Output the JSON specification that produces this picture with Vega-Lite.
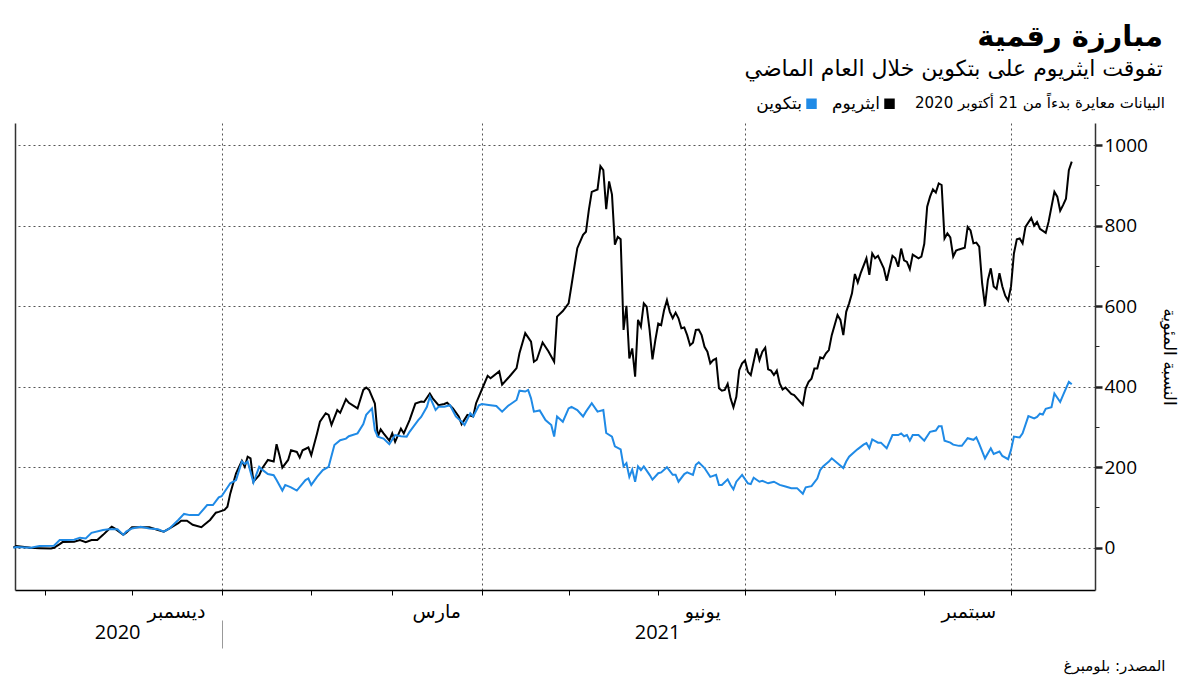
{
"$schema": "https://vega.github.io/schema/vega-lite/v6.json",
"width": 1080,
"height": 467,
"autosize": {"type": "none"},
"padding": {"left": 15, "top": 123, "right": 105, "bottom": 85},
"background": "white",
"config": {"view": {"stroke": null}, "font": "Open Sans, DejaVu Sans"},
"title": {"text": "مبارزة رقمية", "subtitle": "تفوقت ايثريوم على بتكوين خلال العام الماضي", "anchor": "end", "frame": "group", "dx": 68, "offset": 15, "font": "DejaVu Sans", "fontSize": 29, "fontWeight": "bold", "color": "#000", "subtitleFont": "DejaVu Sans", "subtitleFontSize": 22, "subtitleColor": "#000", "subtitlePadding": 7},
"datasets": {
"eth": [
{"d":"2020-10-21","v":0},{"d":"2020-10-22","v":4},{"d":"2020-10-27","v":0},{"d":"2020-10-30","v":-1},{"d":"2020-11-03","v":-2},{"d":"2020-11-04","v":0},{"d":"2020-11-06","v":9},{"d":"2020-11-07","v":14},{"d":"2020-11-11","v":15},{"d":"2020-11-13","v":19},{"d":"2020-11-15","v":14},{"d":"2020-11-17","v":19},{"d":"2020-11-19","v":19},{"d":"2020-11-21","v":32},{"d":"2020-11-23","v":46},{"d":"2020-11-24","v":52},{"d":"2020-11-25","v":48},{"d":"2020-11-28","v":32},{"d":"2020-11-29","v":37},{"d":"2020-12-01","v":51},{"d":"2020-12-03","v":51},{"d":"2020-12-05","v":51},{"d":"2020-12-07","v":51},{"d":"2020-12-10","v":44},{"d":"2020-12-12","v":40},{"d":"2020-12-14","v":48},{"d":"2020-12-17","v":61},{"d":"2020-12-18","v":67},{"d":"2020-12-20","v":67},{"d":"2020-12-22","v":57},{"d":"2020-12-25","v":51},{"d":"2020-12-26","v":57},{"d":"2020-12-28","v":69},{"d":"2020-12-30","v":87},{"d":"2020-12-31","v":89},
{"d":"2021-01-02","v":94},{"d":"2021-01-03","v":102},{"d":"2021-01-04","v":135},{"d":"2021-01-05","v":160},{"d":"2021-01-06","v":185},{"d":"2021-01-08","v":216},{"d":"2021-01-09","v":201},{"d":"2021-01-10","v":226},{"d":"2021-01-11","v":222},{"d":"2021-01-12","v":164},{"d":"2021-01-14","v":180},{"d":"2021-01-15","v":197},{"d":"2021-01-17","v":218},{"d":"2021-01-19","v":214},{"d":"2021-01-20","v":257},{"d":"2021-01-21","v":230},{"d":"2021-01-22","v":199},{"d":"2021-01-24","v":218},{"d":"2021-01-25","v":242},{"d":"2021-01-27","v":238},{"d":"2021-01-28","v":224},{"d":"2021-01-29","v":242},{"d":"2021-01-31","v":249},
{"d":"2021-02-01","v":230},{"d":"2021-02-03","v":284},{"d":"2021-02-04","v":313},{"d":"2021-02-06","v":334},{"d":"2021-02-07","v":330},{"d":"2021-02-08","v":305},{"d":"2021-02-10","v":342},{"d":"2021-02-11","v":335},{"d":"2021-02-13","v":369},{"d":"2021-02-14","v":360},{"d":"2021-02-17","v":346},{"d":"2021-02-19","v":392},{"d":"2021-02-20","v":398},{"d":"2021-02-21","v":392},{"d":"2021-02-23","v":358},{"d":"2021-02-24","v":276},{"d":"2021-02-25","v":294},{"d":"2021-02-26","v":284},{"d":"2021-02-28","v":266},
{"d":"2021-03-01","v":284},{"d":"2021-03-02","v":263},{"d":"2021-03-04","v":296},{"d":"2021-03-05","v":284},{"d":"2021-03-07","v":317},{"d":"2021-03-09","v":358},{"d":"2021-03-11","v":363},{"d":"2021-03-12","v":362},{"d":"2021-03-14","v":383},{"d":"2021-03-15","v":371},{"d":"2021-03-17","v":354},{"d":"2021-03-19","v":357},{"d":"2021-03-20","v":360},{"d":"2021-03-22","v":346},{"d":"2021-03-24","v":326},{"d":"2021-03-25","v":307},{"d":"2021-03-27","v":330},{"d":"2021-03-29","v":326},{"d":"2021-03-30","v":359},
{"d":"2021-04-01","v":393},{"d":"2021-04-03","v":427},{"d":"2021-04-04","v":421},{"d":"2021-04-07","v":438},{"d":"2021-04-08","v":405},{"d":"2021-04-10","v":421},{"d":"2021-04-11","v":429},{"d":"2021-04-13","v":446},{"d":"2021-04-14","v":483},{"d":"2021-04-16","v":533},{"d":"2021-04-18","v":512},{"d":"2021-04-19","v":462},{"d":"2021-04-20","v":467},{"d":"2021-04-22","v":510},{"d":"2021-04-24","v":488},{"d":"2021-04-26","v":462},{"d":"2021-04-27","v":574},{"d":"2021-04-29","v":588},
{"d":"2021-05-01","v":607},{"d":"2021-05-02","v":652},{"d":"2021-05-04","v":744},{"d":"2021-05-06","v":777},{"d":"2021-05-07","v":785},{"d":"2021-05-08","v":839},{"d":"2021-05-09","v":884},{"d":"2021-05-11","v":890},{"d":"2021-05-12","v":948},{"d":"2021-05-13","v":938},{"d":"2021-05-14","v":841},{"d":"2021-05-15","v":910},{"d":"2021-05-16","v":877},{"d":"2021-05-17","v":753},{"d":"2021-05-18","v":772},{"d":"2021-05-19","v":766},{"d":"2021-05-20","v":541},{"d":"2021-05-21","v":601},{"d":"2021-05-22","v":470},{"d":"2021-05-23","v":495},{"d":"2021-05-24","v":425},{"d":"2021-05-25","v":566},{"d":"2021-05-26","v":549},{"d":"2021-05-27","v":607},{"d":"2021-05-28","v":599},{"d":"2021-05-29","v":541},{"d":"2021-05-30","v":468},{"d":"2021-05-31","v":516},
{"d":"2021-06-01","v":557},{"d":"2021-06-02","v":553},{"d":"2021-06-03","v":590},{"d":"2021-06-04","v":615},{"d":"2021-06-05","v":586},{"d":"2021-06-06","v":570},{"d":"2021-06-07","v":584},{"d":"2021-06-08","v":570},{"d":"2021-06-09","v":545},{"d":"2021-06-10","v":547},{"d":"2021-06-11","v":528},{"d":"2021-06-12","v":503},{"d":"2021-06-13","v":509},{"d":"2021-06-14","v":541},{"d":"2021-06-15","v":542},{"d":"2021-06-16","v":528},{"d":"2021-06-17","v":499},{"d":"2021-06-18","v":487},{"d":"2021-06-19","v":458},{"d":"2021-06-20","v":466},{"d":"2021-06-21","v":470},{"d":"2021-06-22","v":396},{"d":"2021-06-23","v":390},{"d":"2021-06-24","v":392},{"d":"2021-06-25","v":407},{"d":"2021-06-26","v":371},{"d":"2021-06-27","v":349},{"d":"2021-06-28","v":375},{"d":"2021-06-29","v":441},{"d":"2021-06-30","v":458},
{"d":"2021-07-01","v":465},{"d":"2021-07-02","v":437},{"d":"2021-07-03","v":429},{"d":"2021-07-04","v":462},{"d":"2021-07-05","v":495},{"d":"2021-07-06","v":466},{"d":"2021-07-07","v":487},{"d":"2021-07-08","v":497},{"d":"2021-07-09","v":443},{"d":"2021-07-10","v":440},{"d":"2021-07-11","v":429},{"d":"2021-07-12","v":440},{"d":"2021-07-13","v":408},{"d":"2021-07-14","v":393},{"d":"2021-07-15","v":398},{"d":"2021-07-17","v":382},{"d":"2021-07-18","v":379},{"d":"2021-07-19","v":371},{"d":"2021-07-21","v":355},{"d":"2021-07-22","v":396},{"d":"2021-07-23","v":412},{"d":"2021-07-24","v":420},{"d":"2021-07-25","v":445},{"d":"2021-07-26","v":445},{"d":"2021-07-27","v":473},{"d":"2021-07-28","v":470},{"d":"2021-07-29","v":483},{"d":"2021-07-30","v":491},{"d":"2021-07-31","v":528},
{"d":"2021-08-02","v":578},{"d":"2021-08-03","v":566},{"d":"2021-08-04","v":528},{"d":"2021-08-05","v":586},{"d":"2021-08-06","v":607},{"d":"2021-08-07","v":632},{"d":"2021-08-08","v":680},{"d":"2021-08-09","v":659},{"d":"2021-08-10","v":682},{"d":"2021-08-12","v":719},{"d":"2021-08-13","v":678},{"d":"2021-08-14","v":731},{"d":"2021-08-15","v":719},{"d":"2021-08-16","v":725},{"d":"2021-08-18","v":694},{"d":"2021-08-19","v":663},{"d":"2021-08-20","v":694},{"d":"2021-08-21","v":725},{"d":"2021-08-22","v":719},{"d":"2021-08-23","v":698},{"d":"2021-08-24","v":743},{"d":"2021-08-25","v":714},{"d":"2021-08-26","v":710},{"d":"2021-08-27","v":692},{"d":"2021-08-28","v":728},{"d":"2021-08-30","v":719},{"d":"2021-08-31","v":723},
{"d":"2021-09-01","v":755},{"d":"2021-09-02","v":847},{"d":"2021-09-03","v":872},{"d":"2021-09-04","v":890},{"d":"2021-09-05","v":882},{"d":"2021-09-06","v":905},{"d":"2021-09-07","v":901},{"d":"2021-09-08","v":768},{"d":"2021-09-09","v":781},{"d":"2021-09-10","v":771},{"d":"2021-09-11","v":723},{"d":"2021-09-12","v":738},{"d":"2021-09-13","v":741},{"d":"2021-09-15","v":745},{"d":"2021-09-16","v":797},{"d":"2021-09-17","v":788},{"d":"2021-09-18","v":756},{"d":"2021-09-19","v":758},{"d":"2021-09-20","v":748},{"d":"2021-09-21","v":657},{"d":"2021-09-22","v":601},{"d":"2021-09-23","v":665},{"d":"2021-09-24","v":694},{"d":"2021-09-25","v":649},{"d":"2021-09-26","v":643},{"d":"2021-09-27","v":682},{"d":"2021-09-28","v":649},{"d":"2021-09-29","v":626},{"d":"2021-09-30","v":614},
{"d":"2021-10-01","v":649},{"d":"2021-10-02","v":731},{"d":"2021-10-03","v":766},{"d":"2021-10-04","v":768},{"d":"2021-10-05","v":756},{"d":"2021-10-06","v":797},{"d":"2021-10-08","v":819},{"d":"2021-10-09","v":800},{"d":"2021-10-10","v":809},{"d":"2021-10-11","v":792},{"d":"2021-10-13","v":782},{"d":"2021-10-14","v":810},{"d":"2021-10-16","v":884},{"d":"2021-10-17","v":872},{"d":"2021-10-18","v":837},{"d":"2021-10-19","v":851},{"d":"2021-10-20","v":867},{"d":"2021-10-21","v":938},{"d":"2021-10-22","v":959}
],
"btc": [
{"d":"2020-10-21","v":0},{"d":"2020-10-22","v":2},{"d":"2020-10-27","v":0},{"d":"2020-10-30","v":4},{"d":"2020-11-04","v":5},{"d":"2020-11-06","v":19},{"d":"2020-11-08","v":19},{"d":"2020-11-11","v":20},{"d":"2020-11-13","v":25},{"d":"2020-11-15","v":23},{"d":"2020-11-17","v":37},{"d":"2020-11-21","v":44},{"d":"2020-11-23","v":46},{"d":"2020-11-26","v":46},{"d":"2020-11-28","v":32},{"d":"2020-11-29","v":40},{"d":"2020-12-01","v":48},{"d":"2020-12-04","v":52},{"d":"2020-12-07","v":48},{"d":"2020-12-10","v":46},{"d":"2020-12-12","v":40},{"d":"2020-12-14","v":48},{"d":"2020-12-17","v":69},{"d":"2020-12-19","v":84},{"d":"2020-12-21","v":81},{"d":"2020-12-24","v":81},{"d":"2020-12-27","v":106},{"d":"2020-12-29","v":106},{"d":"2020-12-31","v":125},
{"d":"2021-01-01","v":128},{"d":"2021-01-04","v":160},{"d":"2021-01-06","v":168},{"d":"2021-01-08","v":214},{"d":"2021-01-09","v":208},{"d":"2021-01-10","v":214},{"d":"2021-01-12","v":162},{"d":"2021-01-14","v":201},{"d":"2021-01-15","v":194},{"d":"2021-01-17","v":183},{"d":"2021-01-19","v":180},{"d":"2021-01-20","v":168},{"d":"2021-01-22","v":142},{"d":"2021-01-23","v":156},{"d":"2021-01-25","v":150},{"d":"2021-01-27","v":142},{"d":"2021-01-30","v":168},{"d":"2021-01-31","v":172},
{"d":"2021-02-01","v":156},{"d":"2021-02-03","v":176},{"d":"2021-02-05","v":193},{"d":"2021-02-07","v":201},{"d":"2021-02-09","v":255},{"d":"2021-02-11","v":267},{"d":"2021-02-13","v":271},{"d":"2021-02-14","v":277},{"d":"2021-02-17","v":284},{"d":"2021-02-19","v":307},{"d":"2021-02-20","v":330},{"d":"2021-02-22","v":346},{"d":"2021-02-23","v":292},{"d":"2021-02-24","v":276},{"d":"2021-02-26","v":271},{"d":"2021-02-28","v":257},
{"d":"2021-03-02","v":280},{"d":"2021-03-04","v":277},{"d":"2021-03-06","v":276},{"d":"2021-03-07","v":288},{"d":"2021-03-10","v":317},{"d":"2021-03-11","v":325},{"d":"2021-03-13","v":350},{"d":"2021-03-14","v":375},{"d":"2021-03-16","v":342},{"d":"2021-03-17","v":350},{"d":"2021-03-19","v":350},{"d":"2021-03-21","v":354},{"d":"2021-03-23","v":326},{"d":"2021-03-25","v":313},{"d":"2021-03-26","v":305},{"d":"2021-03-28","v":334},{"d":"2021-03-29","v":326},{"d":"2021-03-31","v":354},
{"d":"2021-04-01","v":357},{"d":"2021-04-04","v":354},{"d":"2021-04-06","v":352},{"d":"2021-04-08","v":338},{"d":"2021-04-10","v":352},{"d":"2021-04-11","v":357},{"d":"2021-04-13","v":367},{"d":"2021-04-14","v":390},{"d":"2021-04-16","v":388},{"d":"2021-04-17","v":392},{"d":"2021-04-18","v":371},{"d":"2021-04-19","v":338},{"d":"2021-04-21","v":341},{"d":"2021-04-23","v":317},{"d":"2021-04-25","v":305},{"d":"2021-04-26","v":276},{"d":"2021-04-27","v":326},{"d":"2021-04-29","v":313},
{"d":"2021-05-01","v":346},{"d":"2021-05-02","v":350},{"d":"2021-05-04","v":342},{"d":"2021-05-06","v":326},{"d":"2021-05-07","v":338},{"d":"2021-05-09","v":359},{"d":"2021-05-11","v":338},{"d":"2021-05-13","v":342},{"d":"2021-05-14","v":285},{"d":"2021-05-16","v":276},{"d":"2021-05-17","v":252},{"d":"2021-05-19","v":244},{"d":"2021-05-20","v":202},{"d":"2021-05-21","v":210},{"d":"2021-05-22","v":176},{"d":"2021-05-23","v":194},{"d":"2021-05-24","v":164},{"d":"2021-05-25","v":202},{"d":"2021-05-26","v":193},{"d":"2021-05-27","v":202},{"d":"2021-05-29","v":181},{"d":"2021-05-30","v":169},
{"d":"2021-06-01","v":185},{"d":"2021-06-02","v":187},{"d":"2021-06-04","v":200},{"d":"2021-06-06","v":181},{"d":"2021-06-07","v":181},{"d":"2021-06-08","v":164},{"d":"2021-06-10","v":183},{"d":"2021-06-11","v":187},{"d":"2021-06-13","v":181},{"d":"2021-06-14","v":206},{"d":"2021-06-15","v":212},{"d":"2021-06-17","v":198},{"d":"2021-06-19","v":176},{"d":"2021-06-21","v":181},{"d":"2021-06-22","v":156},{"d":"2021-06-23","v":156},{"d":"2021-06-25","v":170},{"d":"2021-06-26","v":156},{"d":"2021-06-27","v":145},{"d":"2021-06-28","v":164},{"d":"2021-06-30","v":181},
{"d":"2021-07-02","v":160},{"d":"2021-07-03","v":158},{"d":"2021-07-04","v":174},{"d":"2021-07-06","v":164},{"d":"2021-07-07","v":166},{"d":"2021-07-09","v":160},{"d":"2021-07-10","v":162},{"d":"2021-07-11","v":164},{"d":"2021-07-13","v":156},{"d":"2021-07-15","v":152},{"d":"2021-07-17","v":148},{"d":"2021-07-19","v":148},{"d":"2021-07-21","v":134},{"d":"2021-07-22","v":150},{"d":"2021-07-24","v":153},{"d":"2021-07-26","v":172},{"d":"2021-07-27","v":193},{"d":"2021-07-28","v":202},{"d":"2021-07-30","v":214},{"d":"2021-07-31","v":222},
{"d":"2021-08-02","v":210},{"d":"2021-08-04","v":198},{"d":"2021-08-05","v":214},{"d":"2021-08-06","v":226},{"d":"2021-08-08","v":239},{"d":"2021-08-09","v":245},{"d":"2021-08-11","v":256},{"d":"2021-08-12","v":260},{"d":"2021-08-13","v":247},{"d":"2021-08-14","v":269},{"d":"2021-08-16","v":261},{"d":"2021-08-17","v":261},{"d":"2021-08-19","v":247},{"d":"2021-08-21","v":280},{"d":"2021-08-23","v":280},{"d":"2021-08-24","v":284},{"d":"2021-08-25","v":277},{"d":"2021-08-26","v":280},{"d":"2021-08-27","v":266},{"d":"2021-08-28","v":280},{"d":"2021-08-30","v":280},
{"d":"2021-09-01","v":266},{"d":"2021-09-03","v":288},{"d":"2021-09-05","v":291},{"d":"2021-09-06","v":302},{"d":"2021-09-07","v":302},{"d":"2021-09-08","v":266},{"d":"2021-09-10","v":261},{"d":"2021-09-11","v":256},{"d":"2021-09-13","v":253},{"d":"2021-09-14","v":253},{"d":"2021-09-16","v":272},{"d":"2021-09-18","v":268},{"d":"2021-09-19","v":274},{"d":"2021-09-20","v":258},{"d":"2021-09-22","v":222},{"d":"2021-09-24","v":247},{"d":"2021-09-25","v":233},{"d":"2021-09-27","v":239},{"d":"2021-09-28","v":228},{"d":"2021-09-30","v":220},
{"d":"2021-10-01","v":243},{"d":"2021-10-02","v":276},{"d":"2021-10-04","v":274},{"d":"2021-10-05","v":284},{"d":"2021-10-07","v":327},{"d":"2021-10-09","v":321},{"d":"2021-10-10","v":325},{"d":"2021-10-11","v":333},{"d":"2021-10-12","v":331},{"d":"2021-10-13","v":345},{"d":"2021-10-15","v":349},{"d":"2021-10-16","v":383},{"d":"2021-10-18","v":362},{"d":"2021-10-19","v":379},{"d":"2021-10-21","v":412},{"d":"2021-10-22","v":406}
]
},
"layer": [
{
"data": {"name": "eth"},
"mark": {"type": "line", "strokeWidth": 2},
"encoding": {
"x": {"field": "d", "type": "temporal",
"scale": {"domain": [{"year": 2020, "month": 10, "date": 21, "hours": 13}, {"year": 2021, "month": 10, "date": 30, "hours": 1}]},
"axis": {"orient": "bottom", "title": null,
"values": [{"year":2020,"month":11,"date":1},{"year":2020,"month":12,"date":1},{"year":2021,"month":1,"date":1},{"year":2021,"month":2,"date":1},{"year":2021,"month":3,"date":1},{"year":2021,"month":4,"date":1},{"year":2021,"month":5,"date":1},{"year":2021,"month":6,"date":1},{"year":2021,"month":7,"date":1},{"year":2021,"month":8,"date":1},{"year":2021,"month":9,"date":1},{"year":2021,"month":10,"date":1}],
"labelExpr": "month(datum.value)==11?'ديسمبر':month(datum.value)==2?'مارس':month(datum.value)==5?'يونيو':month(datum.value)==8?'سبتمبر':''",
"labelOffset": 44, "labelPadding": 7, "labelFont": "DejaVu Sans", "labelFontSize": 19, "labelColor": "#000",
"labelBound": false, "labelOverlap": false, "labelFlush": false,
"ticks": true, "tickSize": 5, "tickColor": "#000", "tickWidth": 1,
"domain": true, "domainColor": "#000", "domainWidth": 1.5,
"grid": true, "gridColor": "#555", "gridDash": [2, 3], "gridWidth": 1,
"gridOpacity": {"condition": {"test": "month(datum.value)%3==0", "value": 1}, "value": 0}}},
"y": {"field": "v", "type": "quantitative",
"scale": {"domain": [-105, 1055], "nice": false, "zero": false},
"axis": {"orient": "right", "title": "النسبة المئوية", "titleAngle": 90, "titleFont": "DejaVu Sans", "titleFontSize": 17, "titleFontWeight": "normal", "titleColor": "#000", "titlePadding": 12,
"values": [0,100,200,300,400,500,600,700,800,900,1000], "format": "d",
"labelExpr": "datum.value%200==0?datum.label:''",
"labelFont": "Open Sans", "labelFontSize": 19, "labelColor": "#000", "labelPadding": 2,
"labelBound": false, "labelOverlap": false, "labelFlush": false,
"ticks": true, "tickColor": "#222",
"tickSize": {"condition": {"test": "datum.value%200==0", "value": 7}, "value": 4},
"tickWidth": {"condition": {"test": "datum.value%200==0", "value": 2.5}, "value": 1},
"domain": true, "domainColor": "#333", "domainWidth": 1.5,
"grid": true, "gridColor": "#555", "gridDash": [2, 3], "gridWidth": 1,
"gridOpacity": {"condition": {"test": "datum.value%200==0", "value": 1}, "value": 0}}},
"color": {"datum": "ايثريوم", "type": "nominal",
"scale": {"domain": ["بتكوين", "ايثريوم"], "range": ["#1f8ae6", "#000000"]},
"legend": {"orient": "none", "legendX": 788, "legendY": -28, "direction": "horizontal", "titleOrient": "right",
"title": "البيانات معايرة بدءاً من 21 أكتوبر 2020", "titleFont": "DejaVu Sans", "titleFontSize": 15, "titleFontWeight": "normal", "titleColor": "#000", "titlePadding": 20, "titleLimit": 500,
"labelFont": "DejaVu Sans", "labelFontSize": 17, "labelColor": "#000", "labelAlign": "right", "labelOffset": -18, "labelLimit": 200,
"symbolType": "square", "symbolSize": 110, "symbolStrokeWidth": 0, "columnPadding": 14,
"encode": {"symbols": {"update": {"fill": {"scale": "color", "field": "value"}, "fillOpacity": {"value": 1}}}}}}
}
},
{
"data": {"name": "btc"},
"mark": {"type": "line", "strokeWidth": 2},
"encoding": {
"x": {"field": "d", "type": "temporal",
"axis": {"orient": "bottom", "offset": 30,
"values": [{"year":2020,"month":12,"date":3,"hours":19},{"year":2021,"month":1,"date":1},{"year":2021,"month":6,"date":8,"hours":12}],
"labelExpr": "month(datum.value)==0?'':timeFormat(datum.value,'%Y')",
"labelAlign": "right", "labelFont": "Open Sans", "labelFontSize": 20, "labelColor": "#000", "labelPadding": -26,
"labelBound": false, "labelOverlap": false, "labelFlush": false,
"domain": false, "grid": false, "ticks": true, "tickSize": 28, "tickColor": "#999", "tickWidth": 1,
"tickOpacity": {"condition": {"test": "month(datum.value)==0", "value": 1}, "value": 0},
"title": "المصدر: بلومبرغ", "titleX": 1150, "titleY": 38, "titleAlign": "right", "titleAnchor": "end", "titleBaseline": "top",
"titleFont": "DejaVu Sans", "titleFontSize": 15, "titleFontWeight": "normal", "titleColor": "#000"}},
"y": {"field": "v", "type": "quantitative",
"axis": {"orient": "left", "title": null, "values": [], "labels": false, "ticks": false, "grid": false, "domain": true, "domainColor": "#333", "domainWidth": 1.5}},
"color": {"datum": "بتكوين", "type": "nominal"}
}
}
],
"resolve": {"axis": {"x": "independent", "y": "independent"}}
}
